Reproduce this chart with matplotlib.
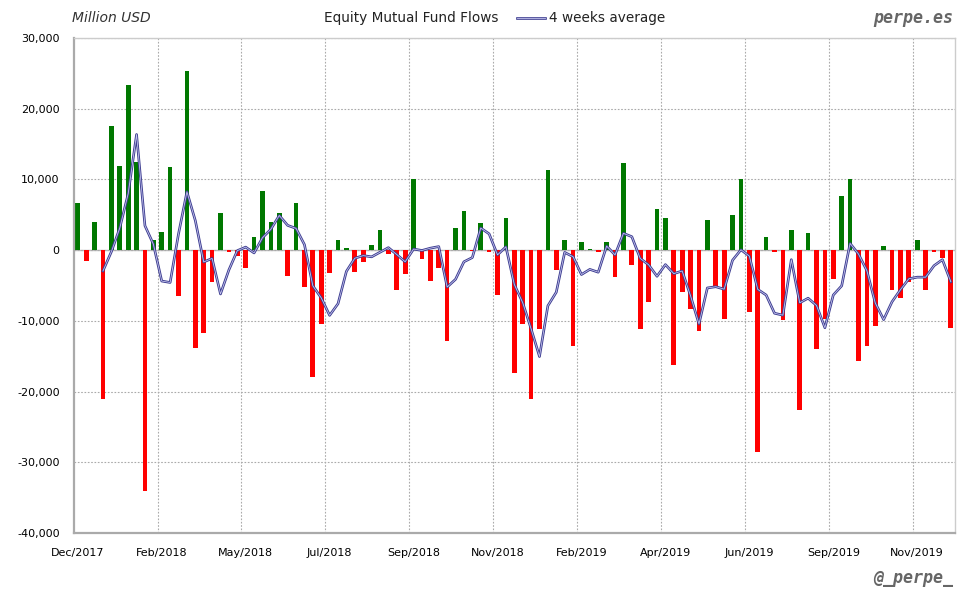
import matplotlib
matplotlib.use("Agg")
import matplotlib.pyplot as plt
import numpy as np
import pandas as pd
from matplotlib.ticker import FuncFormatter

# Weekly equity mutual fund flows (million USD), starting week of 13 Dec 2017
flows = [
    6700, -1500, 4000, -21000, 17600, 11900, 23400, 12500, -34000, 1500,
    2500, 11700, -6500, 25300, -13800, -11700, -4500, 5200, -200, -800,
    -2500, 1900, 8400, 4000, 5300, -3700, 6700, -5200, -18000, -10500,
    -3200, 1400, 300, -3100, -1700, 700, 2900, -500, -5600, -3400,
    10100, -1300, -4300, -2500, -12800, 3100, 5600, -100, 3900, -200,
    -6300, 4500, -17400, -10500, -21100, -11200, 11300, -2800, 1400, -13600,
    1200, 100, -200, 1200, -3800, 12300, -2100, -11100, -7400, 5800,
    4500, -16200, -5900, -8300, -11400, 4200, -5200, -9700, 5000, 10100,
    -8800, -28500, 1800, -200, -9900, 2900, -22600, 2400, -14000, -9700,
    -4100, 7600, 10000, -15700, -13500, -10700, 600, -5600, -6700, -4500,
    1500, -5600, -200, -1100, -11000,
]
tick_labels = ["Dec/2017", "Feb/2018", "May/2018", "Jul/2018", "Sep/2018",
               "Nov/2018", "Feb/2019", "Apr/2019", "Jun/2019", "Sep/2019",
               "Nov/2019"]
tick_every = 10

flows_s = pd.Series(flows, dtype=float)
avg4 = flows_s.rolling(4).mean()
x = np.arange(len(flows))

fig = plt.figure(figsize=(9.8, 6.0), dpi=100)
ax = fig.add_axes([0.0751, 0.1117, 0.8994, 0.825])

colors = ["#007800" if v >= 0 else "#ff0000" for v in flows]
ax.bar(x, flows, width=0.56, color=colors, zorder=2)

ax.plot(x, avg4, color="#3b3b8f", lw=1.9, zorder=3)
ax.plot(x, avg4, color="#c4c4ee", lw=0.6, zorder=4)

ax.set_xlim(-0.5, len(flows) - 0.5)
ax.set_ylim(-40000, 30000)
ax.set_yticks(np.arange(-40000, 30001, 10000))
ax.yaxis.set_major_formatter(FuncFormatter(lambda v, p: f"{int(v):,}"))

ax.set_xticks(np.arange(0, len(flows), tick_every))
ax.set_xticklabels(tick_labels)
ax.set_xticks(np.arange(tick_every - 0.5, len(flows) - 1, tick_every), minor=True)

ax.grid(False)
ax.grid(axis="y", which="major", color="#aaaaaa", linestyle=(0, (1.5, 1.5)), lw=0.8, zorder=0)
ax.grid(axis="x", which="minor", color="#aaaaaa", linestyle=(0, (1.5, 1.5)), lw=0.8, zorder=0)
ax.axhline(0, color="#bbbbbb", lw=1.0, zorder=1)

ax.tick_params(axis="both", which="both", length=0, labelsize=8, colors="#000000")
ax.tick_params(axis="x", pad=11)
ax.tick_params(axis="y", pad=10)

for side in ["top", "right"]:
    ax.spines[side].set_color("#cccccc")
    ax.spines[side].set_linewidth(1.0)
for side in ["left", "bottom"]:
    ax.spines[side].set_color("#aaaaaa")
    ax.spines[side].set_linewidth(1.6)

# Header texts
fig.text(72 / 980, 1 - 18 / 600, "Million USD", style="italic", fontsize=10,
         ha="left", va="center", color="#333333")
fig.text(411 / 980, 1 - 18 / 600, "Equity Mutual Fund Flows", fontsize=9.8,
         ha="center", va="center", color="#222222")
fig.add_artist(plt.Line2D([517 / 980, 545 / 980], [1 - 18 / 600, 1 - 18 / 600],
                          color="#3b3b8f", lw=1.9, transform=fig.transFigure))
fig.add_artist(plt.Line2D([517 / 980, 545 / 980], [1 - 18 / 600, 1 - 18 / 600],
                          color="#c4c4ee", lw=0.6, transform=fig.transFigure))
fig.text(549 / 980, 1 - 18 / 600, "4 weeks average", fontsize=9.8,
         ha="left", va="center", color="#222222")
fig.text(953 / 980, 1 - 18 / 600, "perpe.es", family="DejaVu Sans Mono",
         style="oblique", weight="bold", fontsize=12, ha="right", va="center",
         color="#666666")
fig.text(953 / 980, 1 - 578 / 600, "@_perpe_", family="DejaVu Sans Mono",
         style="oblique", weight="bold", fontsize=12, ha="right", va="center",
         color="#666666")

fig.savefig("out.png", dpi=100, facecolor="white")
